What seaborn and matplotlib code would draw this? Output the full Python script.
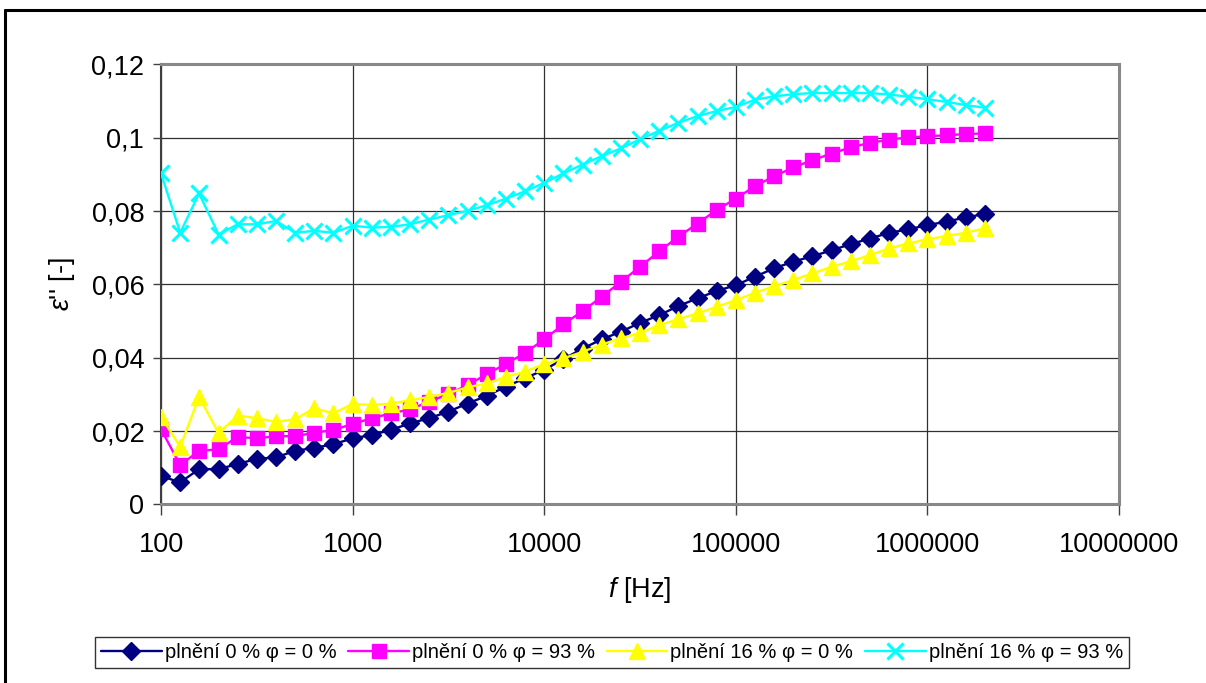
import matplotlib
matplotlib.use("Agg")
import matplotlib.pyplot as plt
from matplotlib.ticker import FixedLocator, FuncFormatter, NullLocator
import seaborn as sns

# Measurement frequencies [Hz], ten points per decade
freq = [100, 126, 158, 200, 251, 316, 398, 501, 631, 794,
        1000, 1259, 1585, 1995, 2512, 3162, 3981, 5012, 6310, 7943,
        10000, 12589, 15849, 19953, 25119, 31623, 39811, 50119, 63096, 79433,
        100000, 125893, 158489, 199526, 251189, 316228, 398107, 501187, 630957, 794328,
        1000000, 1258925, 1584893, 1995262]

# Dielectric loss factor eps'' for each sample
fill0_phi0 = [0.0077, 0.0060, 0.0096, 0.0096, 0.0110, 0.0124, 0.0128, 0.0146, 0.0154, 0.0164,
              0.0180, 0.0189, 0.0203, 0.0221, 0.0235, 0.0253, 0.0275, 0.0296, 0.0321, 0.0344,
              0.0367, 0.0396, 0.0425, 0.0450, 0.0471, 0.0495, 0.0516, 0.0541, 0.0562, 0.0582,
              0.0598, 0.0621, 0.0644, 0.0662, 0.0677, 0.0693, 0.0710, 0.0725, 0.0741, 0.0750,
              0.0762, 0.0771, 0.0783, 0.0792]
fill0_phi93 = [0.0205, 0.0107, 0.0146, 0.0150, 0.0184, 0.0180, 0.0186, 0.0186, 0.0195, 0.0203,
               0.0219, 0.0235, 0.0248, 0.0259, 0.0280, 0.0301, 0.0325, 0.0355, 0.0383, 0.0413,
               0.0450, 0.0491, 0.0527, 0.0566, 0.0607, 0.0648, 0.0690, 0.0730, 0.0766, 0.0803,
               0.0834, 0.0868, 0.0895, 0.0919, 0.0939, 0.0957, 0.0974, 0.0986, 0.0995, 0.1001,
               0.1004, 0.1007, 0.1010, 0.1012]
fill16_phi0 = [0.0239, 0.0157, 0.0293, 0.0194, 0.0242, 0.0235, 0.0225, 0.0232, 0.0262, 0.0248,
               0.0274, 0.0271, 0.0275, 0.0284, 0.0293, 0.0304, 0.0319, 0.0330, 0.0348, 0.0362,
               0.0383, 0.0398, 0.0416, 0.0436, 0.0453, 0.0468, 0.0489, 0.0505, 0.0521, 0.0539,
               0.0557, 0.0577, 0.0595, 0.0612, 0.0630, 0.0648, 0.0663, 0.0680, 0.0698, 0.0712,
               0.0723, 0.0732, 0.0741, 0.0753]
fill16_phi93 = [0.0903, 0.0741, 0.0848, 0.0736, 0.0764, 0.0764, 0.0773, 0.0741, 0.0746, 0.0741,
                0.0760, 0.0755, 0.0757, 0.0764, 0.0777, 0.0789, 0.0801, 0.0816, 0.0834, 0.0854,
                0.0877, 0.0903, 0.0927, 0.0950, 0.0971, 0.0996, 0.1019, 0.1041, 0.1059, 0.1073,
                0.1084, 0.1104, 0.1113, 0.1119, 0.1122, 0.1122, 0.1122, 0.1122, 0.1118, 0.1112,
                0.1105, 0.1098, 0.1089, 0.1082]

labels = ["plnění 0 % φ = 0 %", "plnění 0 % φ = 93 %",
          "plnění 16 % φ = 0 %", "plnění 16 % φ = 93 %"]
colors = ["#000080", "#FF00FF", "#FFFF00", "#00FFFF"]
markers = ["D", "s", "^", "x"]
msizes = [9.5, 10, 11.5, 12]

x_ticks = [100, 1000, 10000, 100000, 1000000, 10000000]
y_ticks = [0, 0.02, 0.04, 0.06, 0.08, 0.10, 0.12]

sns.set_theme(style="white")
plt.rcParams["font.family"] = ["Liberation Sans", "DejaVu Sans"]
plt.rcParams["mathtext.fontset"] = "custom"
plt.rcParams["mathtext.it"] = "Liberation Sans:italic"
plt.rcParams["mathtext.rm"] = "Liberation Sans"
plt.rcParams["text.color"] = "black"
plt.rcParams["axes.labelcolor"] = "black"
plt.rcParams["xtick.color"] = "black"
plt.rcParams["ytick.color"] = "black"

fig = plt.figure(figsize=(12.06, 6.83), dpi=100)
ax = fig.add_axes([0.1335, 0.2616, 0.7944, 0.644])
ax.set_xscale("log")

series = [fill0_phi0, fill0_phi93, fill16_phi0, fill16_phi93]
for vals, lab, col, mk, ms in zip(series, labels, colors, markers, msizes):
    sns.lineplot(x=freq, y=vals, ax=ax, color=col, marker=mk, markersize=ms,
                 markeredgecolor=col, markeredgewidth=2.2 if mk == "x" else 1,
                 linewidth=1.7, label=lab, sort=False, zorder=3)

ax.set_xlim(100, 10000000)
ax.set_ylim(0, 0.12)
ax.xaxis.set_major_locator(FixedLocator(x_ticks))
ax.xaxis.set_minor_locator(NullLocator())
ax.xaxis.set_major_formatter(FuncFormatter(lambda v, p: f"{v:.0f}"))
ax.yaxis.set_major_locator(FixedLocator(y_ticks))
ax.yaxis.set_major_formatter(FuncFormatter(lambda v, p: f"{v:g}".replace(".", ",")))

ax.grid(True, which="major", color="#303030", linewidth=0.9, zorder=0)
ax.set_axisbelow(True)

for side in ["top", "right", "bottom"]:
    ax.spines[side].set_color("#888888")
    ax.spines[side].set_linewidth(2.2)
ax.spines["left"].set_color("#404040")
ax.spines["left"].set_linewidth(1.5)

ax.tick_params(axis="both", which="major", labelsize=19.5, color="#404040",
               labelcolor="black", direction="out", bottom=True, left=True)
ax.tick_params(axis="y", length=6, width=1, pad=6)
ax.tick_params(axis="x", length=8, width=1, pad=12)

ax.set_xlabel(r"$\it{f}$ [Hz]", fontsize=19.5, labelpad=12)
ax.set_ylabel(r"$\it{ε}$'' [-]", fontsize=19.5, labelpad=10)

leg = ax.legend(loc="center", bbox_to_anchor=(0.5075, 0.044),
                bbox_transform=fig.transFigure, ncol=4, fontsize=14.5,
                frameon=True, fancybox=False, edgecolor="black",
                handlelength=3.0, handletextpad=0.15, columnspacing=0.6,
                borderpad=0.3, borderaxespad=0)
leg.get_frame().set_linewidth(1.0)
for t in leg.get_texts():
    t.set_color("black")

# Outer chart frame
fig.add_artist(plt.Line2D([0.0045, 0.0045], [0.0, 0.986], transform=fig.transFigure,
                          color="black", linewidth=2.2))
fig.add_artist(plt.Line2D([0.0045, 1.0], [0.986, 0.986], transform=fig.transFigure,
                          color="black", linewidth=2.2))

fig.savefig("out.png", dpi=100)
